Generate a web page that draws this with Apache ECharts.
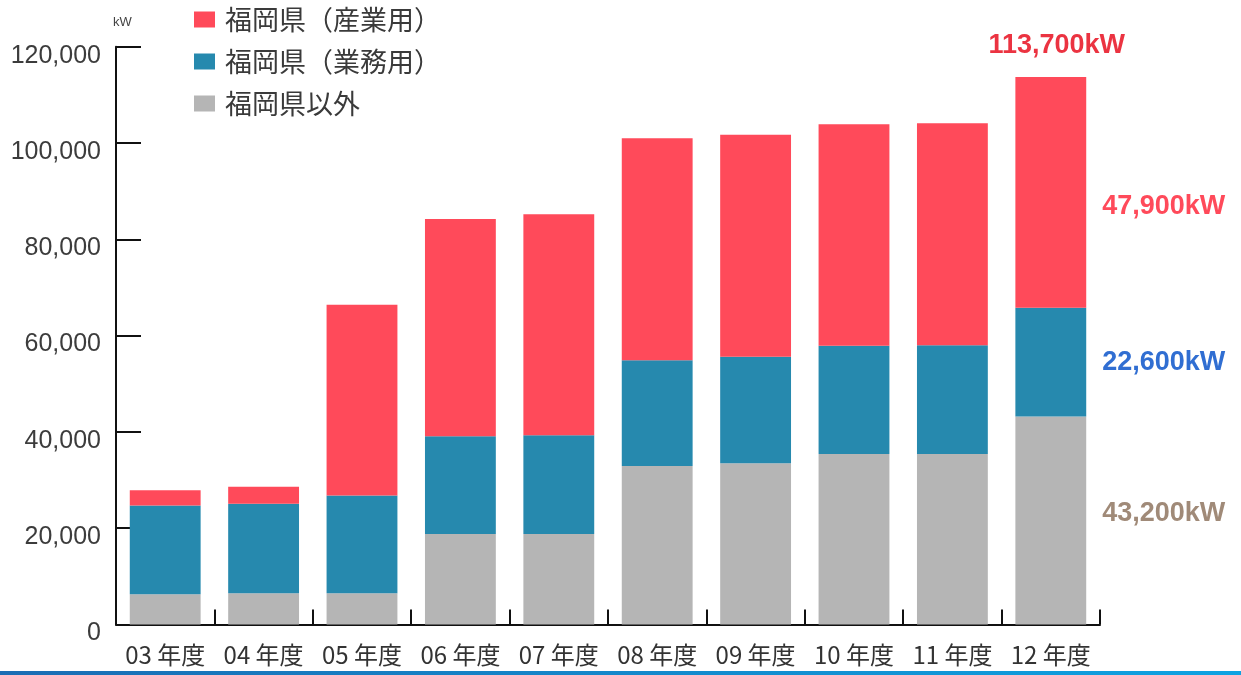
<!DOCTYPE html>
<html>
<head>
<meta charset="utf-8">
<script src="https://cdn.jsdelivr.net/npm/echarts@6/dist/echarts.min.js"></script>
<style>
html,body{margin:0;padding:0;background:#fff;}
#chart{width:1241px;height:675px;}
</style>
</head>
<body>
<div id="chart"></div>
<script>
// ---- data ----
var categories = ['03 年度','04 年度','05 年度','06 年度','07 年度','08 年度','09 年度','10 年度','11 年度','12 年度'];
var seriesNames = ['福岡県（産業用）','福岡県（業務用）','福岡県以外'];
var industrial = [3200, 3500, 39600, 45100, 45900, 46100, 46100, 46000, 46100, 47900];
var business   = [18400, 18600, 20300, 20300, 20500, 22000, 22100, 22500, 22600, 22600];
var outside    = [6300, 6500, 6500, 18800, 18800, 32900, 33500, 35400, 35400, 43200];
var yTicks = [0, 20000, 40000, 60000, 80000, 100000, 120000];
var unitLabel = 'kW';

// ---- chart ----
var last = categories.length - 1;
function fmt(v){ return v.toLocaleString('en-US') + 'kW'; }
var annoFont = {fontFamily:'"Liberation Sans", Arial, sans-serif', fontWeight:'bold', fontSize:27};

function withLastLabel(arr, color, offset){
  return arr.map(function(v,i){
    if(i !== last) return v;
    return {value:v, label:Object.assign({show:true, position:'right', distance:16, offset:offset,
      color:color, formatter:function(p){return fmt(p.value);}}, annoFont)};
  });
}
var totals = categories.map(function(c,i){ return outside[i]+business[i]+industrial[i]; });

var chart = echarts.init(document.getElementById('chart'), null, {renderer:'canvas'});
var option = {
  animation:false,
  backgroundColor:'#ffffff',
  grid:{left:116, right:141, top:46.7, bottom:50.5, containLabel:false},
  legend:{
    data:seriesNames,
    orient:'vertical', left:189, top:1,
    itemWidth:21, itemHeight:16, itemGap:15,
    icon:'rect',
    textStyle:{fontFamily:'"Noto Sans CJK JP", sans-serif', fontSize:27, color:'#3a3a3a', lineHeight:27, padding:[0,0,0,5]}
  },
  xAxis:{
    type:'category', data:categories, boundaryGap:true,
    axisLine:{show:true, lineStyle:{color:'#111', width:2}},
    axisTick:{show:true, inside:true, interval:0, length:15, lineStyle:{color:'#111', width:2}},
    axisLabel:{interval:0, fontFamily:'"Noto Sans CJK JP", sans-serif', fontSize:24, color:'#333', margin:18}
  },
  yAxis:{
    type:'value', min:yTicks[0], max:yTicks[yTicks.length-1], interval:yTicks[1]-yTicks[0],
    axisLine:{show:true, lineStyle:{color:'#111', width:2}},
    axisTick:{show:true, inside:true, length:25, lineStyle:{color:'#111', width:2}},
    splitLine:{show:false},
    axisLabel:{fontFamily:'"Liberation Sans", Arial, sans-serif', fontSize:25, color:'#3c3c3c', margin:15,
      verticalAlign:'top', lineHeight:18,
      formatter:function(v){return v.toLocaleString('en-US');}}
  },
  series:[
    {name:seriesNames[2], type:'bar', stack:'t', barWidth:'72%', itemStyle:{color:'#b5b5b5'},
      data:withLastLabel(outside, '#a08a78', [0,-7])},
    {name:seriesNames[1], type:'bar', stack:'t', barWidth:'72%', itemStyle:{color:'#2689ae'},
      data:withLastLabel(business, '#306ed2', [0,0])},
    {name:seriesNames[0], type:'bar', stack:'t', barWidth:'72%', itemStyle:{color:'#ff4a5a'},
      data:withLastLabel(industrial, '#ff4a5a', [0,14])},
    {name:'total', type:'scatter', symbolSize:0, silent:true, z:5,
      data:totals.map(function(v,i){ return i===last ? v : '-'; }),
      label:Object.assign({show:true, position:'top', distance:18, offset:[6,0], color:'#e60012',
        formatter:function(p){return fmt(p.value);}}, annoFont)}
  ],
  graphic:[
    {type:'text', left:113, top:16, style:{text:unitLabel, fontFamily:'"Liberation Sans", Arial, sans-serif', fontSize:13, fill:'#444'}},
    {type:'rect', left:0, top:671, shape:{width:1241, height:4},
      style:{fill:new echarts.graphic.LinearGradient(0,0,1,0,[{offset:0,color:'#1a6db4'},{offset:1,color:'#0ea3e2'}])}}
  ]
};
chart.setOption(option);
</script>
</body>
</html>
